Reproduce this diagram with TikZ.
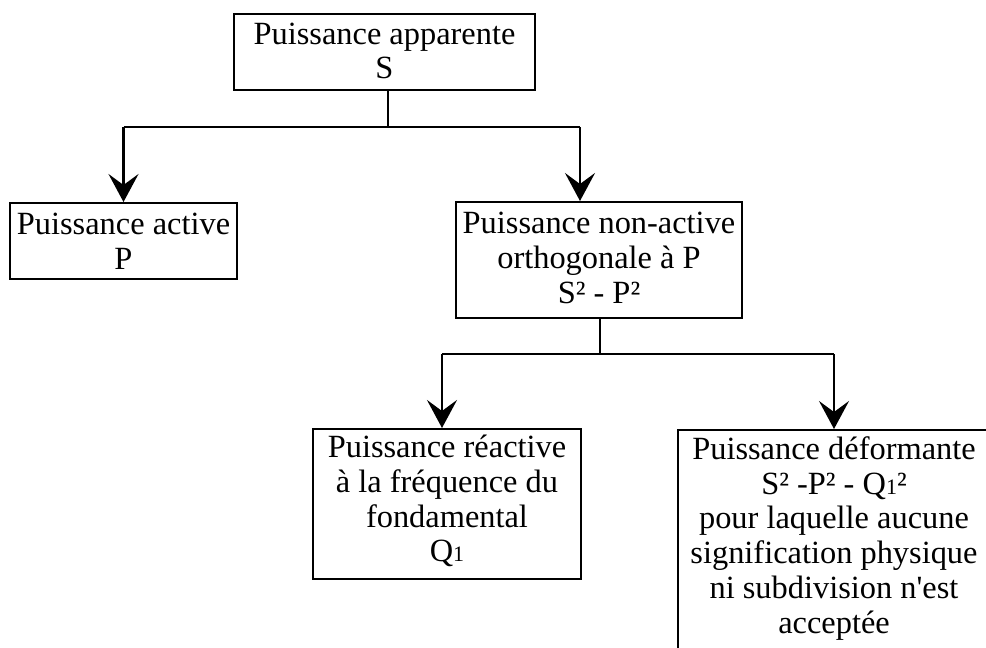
\documentclass[tikz,border=0pt]{standalone}
\usepackage{fontspec}
\setmainfont{Liberation Serif}
\newfontfamily\rawserif{Liberation Serif}
\usetikzlibrary{arrows.meta,calc}
\newcommand{\qone}{Q{\fontsize{11}{11}\selectfont 1}}
\begin{document}
\begin{tikzpicture}[x=0.5pt,y=-0.5pt,
  box/.style={draw, line width=1pt, rectangle, inner sep=0pt},
  txt/.style={align=center, inner sep=0pt, font=\fontsize{16.2}{17.4}\selectfont},
  conn/.style={line width=1.1pt},
  arr/.style={line width=1.1pt, -{Stealth[length=14pt, width=15pt, inset=5.5pt]}}]
\useasboundingbox (0,0) rectangle (986,648);
\clip (0,0) rectangle (986,648);
% boxes
\node[box, minimum width=150.5pt, minimum height=38pt] (top) at (384.5,52) {};
\node[box, minimum width=113.5pt, minimum height=38pt] (act) at (123.5,241) {};
\node[box, minimum width=143pt, minimum height=58pt] (nact) at (599,260) {};
\node[box, minimum width=134pt, minimum height=75pt] (reac) at (447,504) {};
\node[box, minimum width=170pt, minimum height=125pt, anchor=north west] (def) at (677,429) {};
% texts
\node[txt] (toptxt) at ($(top)+(0,-1)$) {Puissance apparente\\S};
\node[txt] (acttxt) at (act) {Puissance active\\P};
\node[txt] (nacttxt) at ($(nact)+(0,-2)$) {Puissance non-active\\orthogonale à P\\S² - P²};
\node[txt] (reactxt) at ($(reac)+(0,-3)$) {Puissance réactive\\à la fréquence du\\fondamental\\\qone};
\node[txt, anchor=north] (deftxt) at (834,436) {Puissance déformante\\S² -P² - \qone²\\pour laquelle aucune\\signification physique\\ni subdivision n{\rawserif'}est\\acceptée};
% connectors
\coordinate (b1) at (388,127);
\coordinate (b2) at (600,354);
\coordinate (defin) at (834,429);
\draw[conn] (top.south -| b1) -- (b1);
\draw[conn] (act.north |- b1) -- ($(nact.north |- b1)+(-19,0)$);
\draw[arr] (act.north |- b1) -- (act.north);
\draw[arr] ($(nact.north |- b1)+(-19,0)$) -- ($(nact.north)+(-19,0)$);
\draw[conn] (nact.south -| b2) -- (b2);
\draw[conn] ($(reac.north |- b2)+(-5,0)$) -- (defin |- b2);
\draw[arr] ($(reac.north |- b2)+(-5,0)$) -- ($(reac.north)+(-5,0)$);
\draw[arr] (defin |- b2) -- (defin);
\end{tikzpicture}
\end{document}
